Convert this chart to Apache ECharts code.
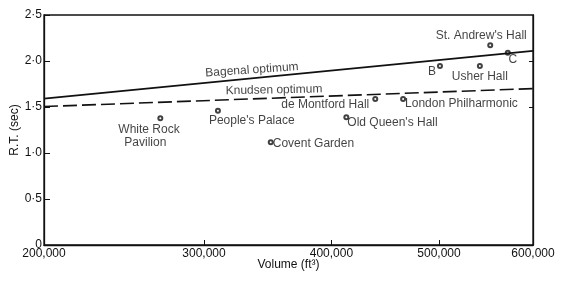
<!DOCTYPE html>
<html><head><meta charset="utf-8">
<script src="https://cdn.jsdelivr.net/npm/echarts@6/dist/echarts.min.js"></script>
<style>html,body{margin:0;padding:0;background:#fff}#c{width:576px;height:282px}</style>
</head><body><div id="c"></div><script>
// ---- data ----
const hallNames = ["St. Andrew's Hall", "C", "B", "Usher Hall", "London Philharmonic", "de Montford Hall", "Old Queen's Hall", "People's Palace", "Covent Garden", "White Rock Pavilion"];
const hallVolumes = [553000, 572000, 501000, 542000, 465000, 439000, 413000, 310000, 350000, 270000]; // ft^3
const hallRT = [2.17, 2.09, 1.945, 1.945, 1.587, 1.587, 1.388, 1.46, 1.116, 1.377]; // sec
const optimumVolumes = [200000, 600000];
const bagenalRT = [1.59, 2.11];
const knudsenRT = [1.505, 1.70];
const xTickValues = [200000, 300000, 400000, 500000, 600000];
const xTickLabels = ['200,000', '300,000', '400,000', '500,000', '600,000'];
const yTickValues = [0, 0.5, 1, 1.5, 2, 2.5];
const yTickLabels = ['0', '0·5', '1·0', '1·5', '2·0', '2·5'];

// ---- presentation ----
const FONT = 'Liberation Sans';
const cb = v => Math.cbrt(v); // x axis is drawn on a cube-root volume scale
const labelStyle = {
  "St. Andrew's Hall": { offset: [-9, -10], align: 'center' },
  "C": { offset: [5, 7], align: 'center' },
  "B": { offset: [-8, 6], align: 'center' },
  "Usher Hall": { offset: [0, 11], align: 'center' },
  "London Philharmonic": { offset: [2, 5], align: 'left' },
  "de Montford Hall": { offset: [-6, 6], align: 'right' },
  "Old Queen's Hall": { offset: [1, 5.5], align: 'left' },
  "People's Palace": { offset: [-9, 10], align: 'left' },
  "Covent Garden": { offset: [2, 1.5], align: 'left' },
  "White Rock Pavilion": { offset: [-42, 18], align: 'left' }
};

const hallData = hallNames.map((n, i) => {
  const s = labelStyle[n];
  const text = n === 'White Rock Pavilion' ? '{a|White Rock}\n{b|Pavilion}' : n;
  return {
    name: n,
    value: [cb(hallVolumes[i]), hallRT[i]],
    label: { show: true, position: 'inside', formatter: text, offset: s.offset, align: s.align, verticalAlign: 'middle' }
  };
});

const chart = echarts.init(document.getElementById('c'), null, { renderer: 'canvas' });
const xMin = cb(xTickValues[0]), xMax = cb(xTickValues[xTickValues.length - 1]);
const xFmt = v => { const i = xTickValues.findIndex(t => Math.abs(cb(t) - v) < 1e-6); return i >= 0 ? xTickLabels[i] : ''; };

chart.setOption({
  animation: false,
  textStyle: { fontFamily: FONT, color: '#111' },
  grid: { left: 44, right: 43, top: 15, bottom: 37, containLabel: false, outerBoundsMode: 'none', show: true, borderColor: '#111', borderWidth: 1.3, backgroundColor: 'transparent' },
  xAxis: {
    type: 'value', min: xMin, max: xMax,
    name: 'Volume (ft³)', nameLocation: 'middle', nameGap: 14, nameMoveOverlap: false,
    nameTextStyle: { fontFamily: FONT, fontSize: 12, color: '#111' },
    axisLine: { lineStyle: { color: '#111', width: 1.3 } },
    axisTick: { show: true, inside: true, length: 5, customValues: xTickValues.map(cb), lineStyle: { color: '#111', width: 1 } },
    axisLabel: { customValues: xTickValues.map(cb), formatter: xFmt, margin: 3, fontSize: 12, color: '#111', fontFamily: FONT, showMinLabel: true, showMaxLabel: true },
    splitLine: { show: false }
  },
  yAxis: [{
    type: 'value', min: 0, max: 2.5, interval: 0.5,
    name: 'R.T. (sec)', nameLocation: 'middle', nameGap: 23, nameRotate: 90, nameMoveOverlap: false,
    nameTextStyle: { fontFamily: FONT, fontSize: 12, color: '#111' },
    axisLine: { show: true, lineStyle: { color: '#111', width: 1.3 } },
    axisTick: { show: true, inside: true, length: 6, lineStyle: { color: '#111', width: 1 } },
    axisLabel: { formatter: v => { const i = yTickValues.findIndex(t => Math.abs(t - v) < 1e-9); return i >= 0 ? yTickLabels[i] : ''; }, margin: 2, fontSize: 12, color: '#111', fontFamily: FONT },
    splitLine: { show: false }
  }, {
    type: 'value', min: 0, max: 2.5, position: 'right',
    axisLine: { show: true, lineStyle: { color: '#111', width: 1.3 } },
    axisTick: { show: true, inside: true, length: 4, customValues: [1.5, 2.0], lineStyle: { color: '#111', width: 1 } },
    axisLabel: { show: false },
    splitLine: { show: false }
  }],
  series: [
    {
      name: 'Bagenal optimum', type: 'line', symbol: 'none', silent: true,
      data: optimumVolumes.map((v, i) => [cb(v), bagenalRT[i]]),
      lineStyle: { color: '#111', width: 1.8 }
    },
    {
      name: 'Knudsen optimum', type: 'line', symbol: 'none', silent: true,
      data: optimumVolumes.map((v, i) => [cb(v), knudsenRT[i]]),
      lineStyle: { color: '#111', width: 1.6, type: [14, 5] }
    },
    {
      name: 'line labels', type: 'scatter', symbolSize: 0, silent: true,
      data: [
        { value: [cb(335400), 1.902], label: { show: true, formatter: 'Bagenal optimum', position: 'inside', rotate: 4, fontSize: 12 } },
        { value: [cb(352600), 1.685], label: { show: true, formatter: 'Knudsen optimum', position: 'inside', rotate: 1, fontSize: 12 } }
      ],
      label: { color: '#111', fontFamily: FONT }
    },
    {
      name: 'halls', type: 'scatter', symbol: 'emptyCircle', symbolSize: 4,
      itemStyle: { color: '#111', borderColor: '#111', borderWidth: 0.8 },
      label: {
        color: '#111', fontFamily: FONT, fontSize: 12,
        rich: {
          a: { fontSize: 12, fontFamily: FONT, color: '#111', lineHeight: 13 },
          b: { fontSize: 12, fontFamily: FONT, color: '#111', lineHeight: 13, padding: [0, 0, 0, 6] }
        }
      },
      data: hallData
    }
  ]
});
</script></body></html>
